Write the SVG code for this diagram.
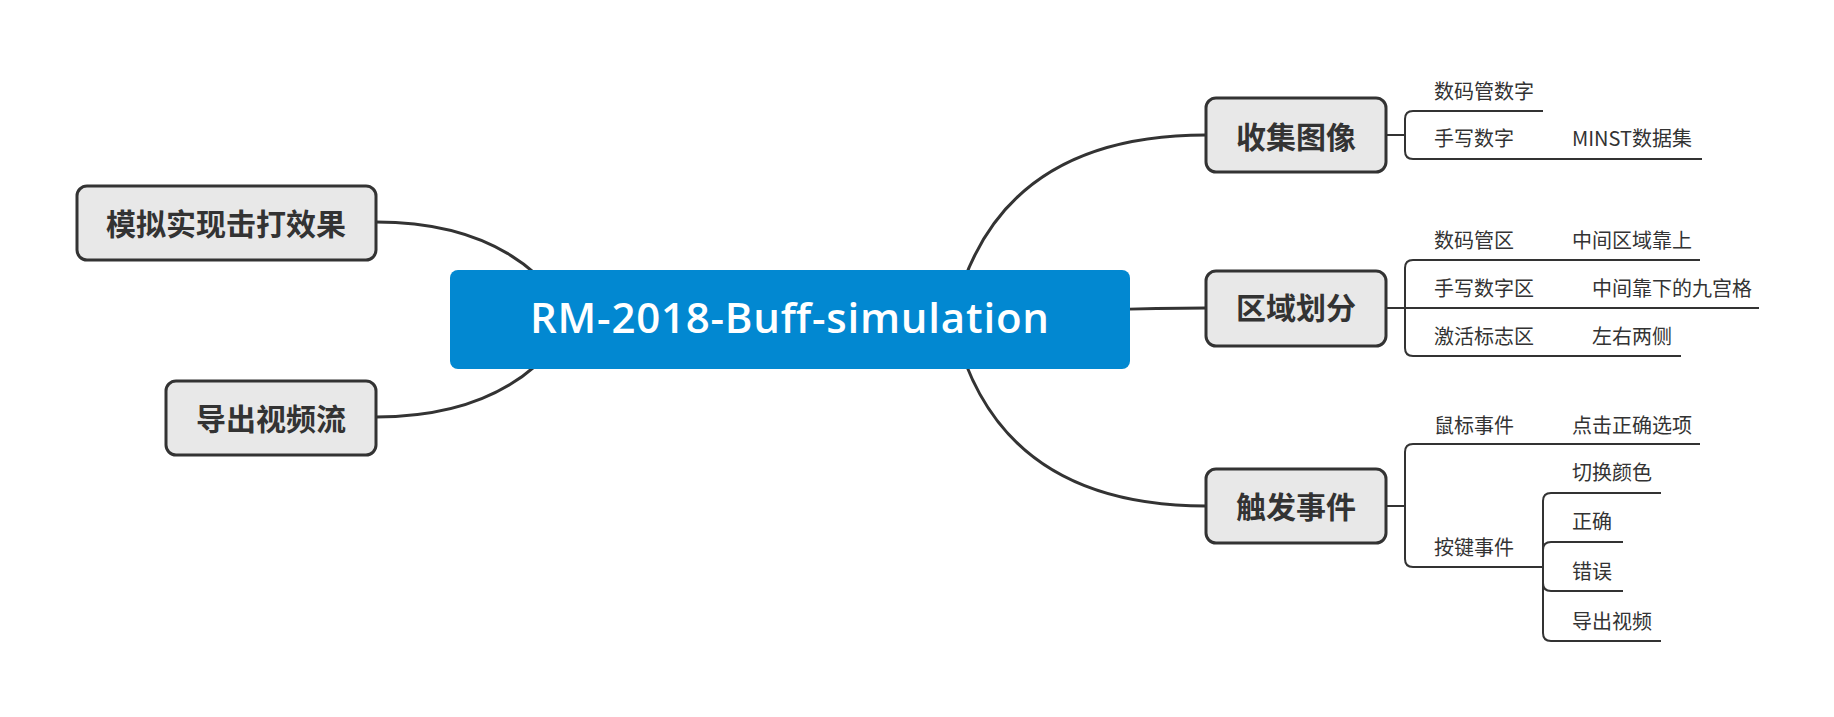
<svg xmlns="http://www.w3.org/2000/svg" width="1834" height="717" viewBox="0 0 1834 717">
<style>
.bg{fill:#ffffff}
.main{fill:none;stroke:#333333;stroke-width:3;stroke-linecap:round}
.sub{fill:none;stroke:#333333;stroke-width:2}
.node rect{fill:#e8e8e8;stroke:#333333;stroke-width:3}
.node text{font-family:"Noto Sans CJK SC","Noto Sans",sans-serif;font-size:30px;font-weight:bold;fill:#333333;text-anchor:middle}
.leaf{font-family:"Noto Sans CJK SC","Noto Sans",sans-serif;font-size:20px;fill:#333333}
.root rect{fill:#0288d1}
.root text{font-family:"Open Sans","Noto Sans",sans-serif;font-size:42px;font-weight:600;fill:#ffffff;text-anchor:middle}
</style>
<rect class="bg" x="0" y="0" width="1834" height="717"/>
<g id="connectors">
<path class="main" d="M376 222 Q500 222 560 300"/>
<path class="main" d="M376 417 Q500 417 560 340"/>
<path class="main" d="M1206 135 Q1000 135 955 309"/>
<path class="main" d="M1206 506 Q1000 506 955 330"/>
<path class="main" d="M1100 310 Q1160 308 1206 308"/>
<path class="sub" d="M1386 135 H1405"/>
<path class="sub" d="M1405 135 V119 Q1405 111 1413 111 H1543"/>
<path class="sub" d="M1405 135 V151 Q1405 159 1413 159 H1702"/>
<path class="sub" d="M1405 308 V268 Q1405 260 1413 260 H1700"/>
<path class="sub" d="M1386 308 H1759"/>
<path class="sub" d="M1405 308 V348 Q1405 356 1413 356 H1681"/>
<path class="sub" d="M1386 506 H1405"/>
<path class="sub" d="M1405 506 V452 Q1405 444 1413 444 H1700"/>
<path class="sub" d="M1405 506 V559 Q1405 567 1413 567 H1543"/>
<path class="sub" d="M1543 567 V501 Q1543 493 1551 493 H1661"/>
<path class="sub" d="M1543 567 V550 Q1543 542 1551 542 H1623"/>
<path class="sub" d="M1543 567 V583 Q1543 591 1551 591 H1623"/>
<path class="sub" d="M1543 567 V633 Q1543 641 1551 641 H1661"/>
</g>
<g id="root" class="root">
<rect x="450" y="270" width="680" height="99" rx="8"/>
<text x="789.5" y="333" textLength="519">RM-2018-Buff-simulation</text>
</g>
<g id="n-moni" class="node">
<rect x="77" y="186" width="299" height="74" rx="10"/>
<text x="226" y="235">模拟实现击打效果</text>
</g>
<g id="n-daochu" class="node">
<rect x="166" y="381" width="210" height="74" rx="10"/>
<text x="271" y="430">导出视频流</text>
</g>
<g id="n-shouji" class="node">
<rect x="1206" y="98" width="180" height="74" rx="10"/>
<text x="1296" y="147.5">收集图像</text>
</g>
<g id="n-quyu" class="node">
<rect x="1206" y="271" width="180" height="75" rx="10"/>
<text x="1296" y="319">区域划分</text>
</g>
<g id="n-chufa" class="node">
<rect x="1206" y="469" width="180" height="74" rx="10"/>
<text x="1296" y="517.5">触发事件</text>
</g>
<g id="l-shumaguan"><text class="leaf" x="1434" y="98.5">数码管数字</text></g>
<g id="l-shouxie"><text class="leaf" x="1434" y="145.8">手写数字</text></g>
<g id="l-minst"><text class="leaf" x="1572" y="145.8">MINST数据集</text></g>
<g id="l-smgq"><text class="leaf" x="1434" y="247.5">数码管区</text></g>
<g id="l-zjqy"><text class="leaf" x="1572" y="247.5">中间区域靠上</text></g>
<g id="l-sxszq"><text class="leaf" x="1434" y="295.8">手写数字区</text></g>
<g id="l-zjkx"><text class="leaf" x="1592" y="295.8">中间靠下的九宫格</text></g>
<g id="l-jhbz"><text class="leaf" x="1434" y="344.2">激活标志区</text></g>
<g id="l-zyls"><text class="leaf" x="1592" y="344.2">左右两侧</text></g>
<g id="l-shubiao"><text class="leaf" x="1434" y="432.8">鼠标事件</text></g>
<g id="l-dianji"><text class="leaf" x="1572" y="432.8">点击正确选项</text></g>
<g id="l-anjian"><text class="leaf" x="1434" y="555.2">按键事件</text></g>
<g id="l-qiehuan"><text class="leaf" x="1572" y="480.2">切换颜色</text></g>
<g id="l-zhengque"><text class="leaf" x="1572" y="528.5">正确</text></g>
<g id="l-cuowu"><text class="leaf" x="1572" y="579.2">错误</text></g>
<g id="l-daochusp"><text class="leaf" x="1572" y="628.5">导出视频</text></g>
</svg>
